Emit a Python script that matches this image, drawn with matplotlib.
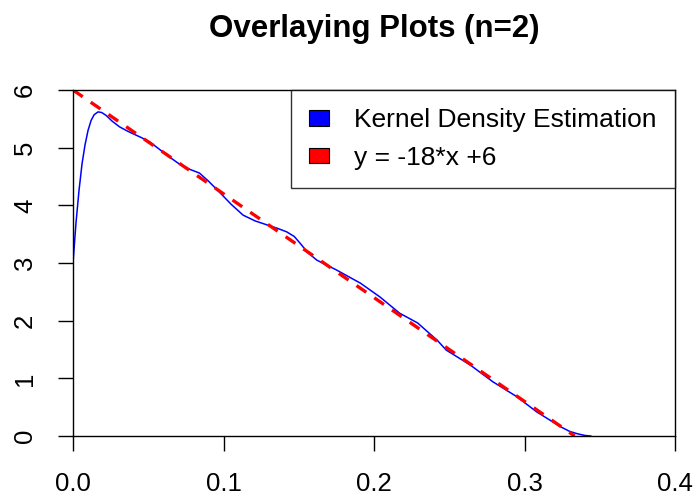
import numpy as np
import matplotlib.pyplot as plt
from matplotlib.patches import Patch

plt.rcParams['font.family'] = ['Liberation Sans', 'DejaVu Sans']
plt.rcParams['lines.scale_dashes'] = False

# kernel density estimate
kde_x = [0.0, 0.002, 0.004, 0.006, 0.008, 0.010, 0.012, 0.014, 0.0166, 0.019,
         0.022, 0.026, 0.031, 0.036, 0.040, 0.045, 0.051, 0.057, 0.064,
         0.071, 0.078, 0.084, 0.090, 0.098, 0.105, 0.113, 0.121, 0.129, 0.136,
         0.142, 0.147, 0.151, 0.156, 0.162, 0.175, 0.191, 0.204, 0.217, 0.229,
         0.242, 0.248, 0.264, 0.279, 0.295, 0.308, 0.324, 0.330, 0.335, 0.340,
         0.344]
kde_y = [3.0, 3.7, 4.26, 4.72, 5.05, 5.30, 5.47, 5.57, 5.62, 5.61,
         5.56, 5.46, 5.36, 5.29, 5.24, 5.18, 5.10, 4.98, 4.84,
         4.71, 4.62, 4.56, 4.42, 4.21, 4.02, 3.83, 3.73, 3.66, 3.60,
         3.54, 3.46, 3.34, 3.18, 3.05, 2.88, 2.65, 2.41, 2.13, 1.96,
         1.66, 1.49, 1.23, 0.94, 0.68, 0.42, 0.16, 0.08, 0.04, 0.01,
         0.0]

# reference line y = -18*x + 6
line_x = [0.0, 1 / 3]
line_y = [6.0, 0.0]

fig = plt.figure(figsize=(6.98, 5.0), dpi=100)
ax = fig.add_axes([73 / 698, 64 / 500, 602 / 698, 346 / 500])

ax.plot(kde_x, kde_y, color='blue', linewidth=1.1, solid_joinstyle='round')
ax.plot(line_x, line_y, color='red', linewidth=2.4, linestyle=(0, (8.5, 7.0)),
        solid_capstyle='butt')

ax.set_xlim(0, 0.4)
ax.set_ylim(0, 6)
ax.set_xticks([0.0, 0.1, 0.2, 0.3, 0.4])
ax.set_xticklabels(['0.0', '0.1', '0.2', '0.3', '0.4'])
ax.set_yticks([0, 1, 2, 3, 4, 5, 6])
ax.tick_params(direction='out', length=11, width=1, labelsize=18.5, pad=15)
for lab in ax.get_yticklabels():
    lab.set_rotation(90)
    lab.set_va('center')
for sp in ax.spines.values():
    sp.set_linewidth(1.0)

ax.set_title('Overlaying Plots (n=2)', fontsize=22.5, fontweight='bold', pad=38)

handles = [Patch(facecolor='blue', edgecolor='black', linewidth=0.8),
           Patch(facecolor='red', edgecolor='black', linewidth=0.8)]
leg = ax.legend(handles, ['Kernel Density Estimation', 'y = -18*x +6'],
                loc='upper right', fontsize=19, frameon=True, fancybox=False,
                borderaxespad=0, handlelength=0.75, handleheight=0.52,
                handletextpad=0.95, borderpad=0.7, labelspacing=0.5)
leg.get_frame().set_edgecolor('black')
leg.get_frame().set_linewidth(1.0)

plt.savefig('out.png', dpi=100)
